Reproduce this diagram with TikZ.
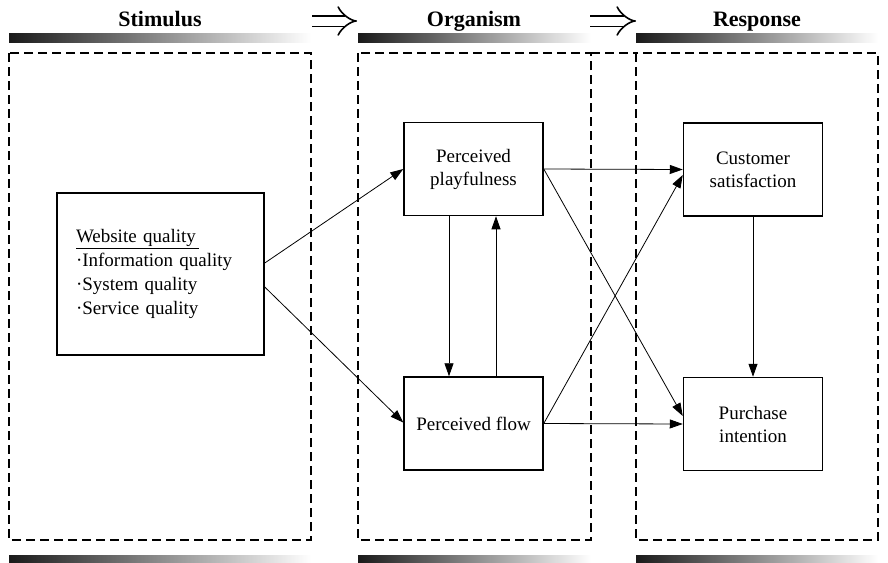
\documentclass[tikz,border=0pt]{standalone}
\usepackage{fontspec}
\setmainfont{Liberation Serif}
\usetikzlibrary{arrows.meta}

\begin{document}
\begin{tikzpicture}[x=1pt, y=-1pt,
    every node/.style={font=\fontsize{19}{23}\selectfont, align=center},
    box/.style={draw, line width=1.5pt, minimum width=139pt, minimum height=93pt, inner sep=2pt},
    stage/.style={draw, line width=1.5pt, dash pattern=on 9pt off 5pt},
    head/.style={font=\fontsize{22}{26}\selectfont\bfseries, anchor=base},
    link/.style={line width=0.8pt, -{Triangle[length=13pt,width=9pt]}},
    implies/.style={double, double distance=9pt, line width=1.6pt, -{Implies}}]
  \useasboundingbox (0,0) rectangle (888,562);
  % stages
  \foreach \xa/\xb in {9/311, 358/591, 636/878} {
    \shade[left color=black!90, right color=white] (\xa,33) rectangle (\xb,42);
    \shade[left color=black!90, right color=white] (\xa,555) rectangle (\xb,562);
    \draw[stage] (\xa,53) rectangle (\xb,540);
  }
  \draw[stage] (591,53) -- (636,53);
  \node[head] (stim) at (160,27) {Stimulus};
  \node[head] (org) at (474,27) {Organism};
  \node[head] (resp) at (757,27) {Response};
  \coordinate (i1a) at (312,21);
  \coordinate (i1b) at (357,21);
  \coordinate (i2a) at (590,21);
  \coordinate (i2b) at (636,21);
  \draw[implies] (i1a) -- (i1b);
  \draw[implies] (i2a) -- (i2b);
  % constructs
  \node[box, minimum width=207pt, minimum height=162pt, text width=169pt, inner xsep=19pt,
        align=left, font=\fontsize{19}{24}\selectfont] (web) at (160.5,274)
        {\underline{Website quality\,}\\ \textperiodcentered Information quality\\
         \textperiodcentered System quality\\ \textperiodcentered Service quality};
  \node[box] (play) at (473.5,169) {Perceived\\playfulness};
  \node[box] (flow) at (473.5,423.5) {Perceived flow};
  \node[box] (sat) at (753,169.5) {Customer\\satisfaction};
  \node[box] (pur) at (753,424) {Purchase\\intention};
  % paths
  \draw[link] ([yshift=11pt]web.east) -- (play.west);
  \draw[link] ([yshift=-13pt]web.east) -- ([yshift=1pt]flow.west);
  \draw[link] ([xshift=-24.5pt]play.south) -- ([xshift=-24.5pt]flow.north);
  \draw[link] ([xshift=22.5pt]flow.north) -- ([xshift=22.5pt]play.south);
  \draw[link] (play.east) -- (sat.west);
  \draw[link] (play.east) -- ([yshift=8pt]pur.west);
  \draw[link] (flow.east) -- ([yshift=-5.5pt]sat.west);
  \draw[link] (flow.east) -- (pur.west);
  \draw[link] (sat.south) -- (pur.north);
\end{tikzpicture}
\end{document}
